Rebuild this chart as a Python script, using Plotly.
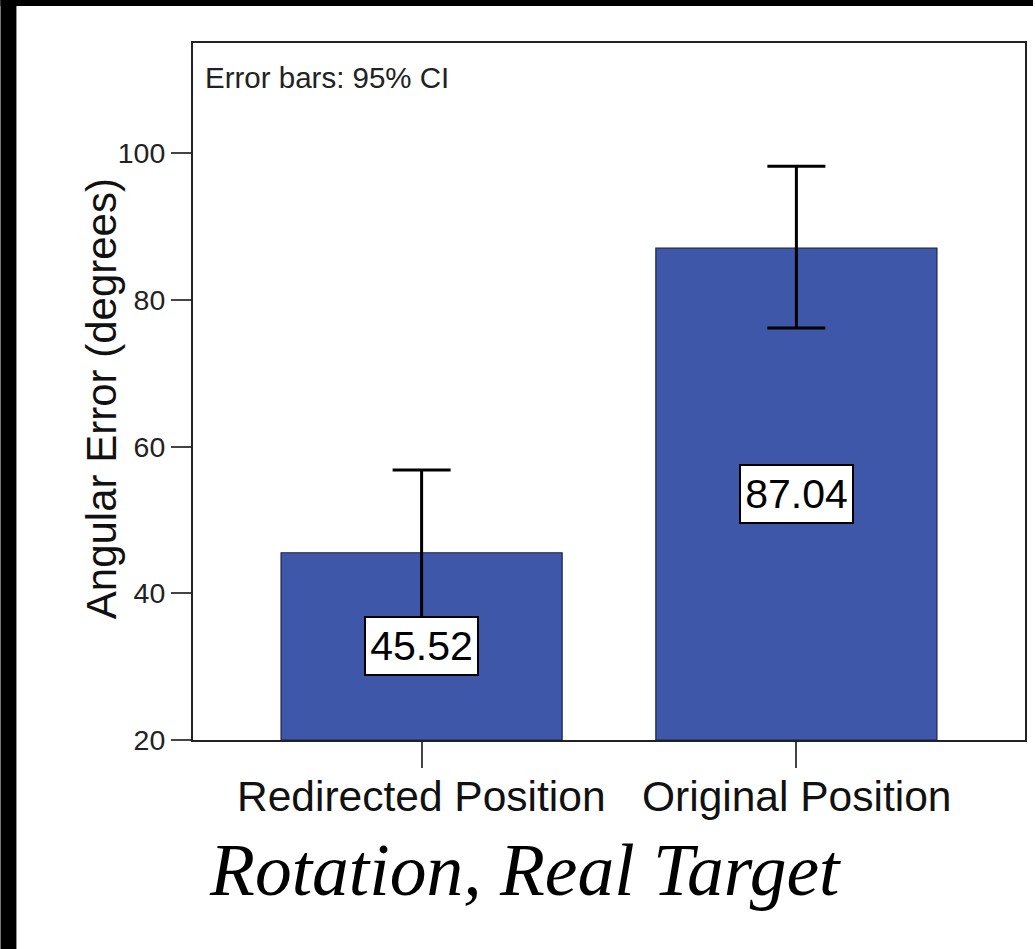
import plotly.graph_objects as go

# Data: mean angular error with 95% confidence interval bounds
categories = ["Redirected Position", "Original Position"]
means = [45.52, 87.04]
ci_upper = [56.8, 98.2]
ci_lower = [34.7, 76.15]
y_ticks = [20, 40, 60, 80, 100]
y_min, y_max = 20, 115

W, H = 1035, 949
L, R, T, B = 193, 8, 43, 209
plot_w = W - L - R
plot_h = H - T - B


def px_x(px):
    return (px - L) / plot_w


def px_y(py):
    return (T + plot_h - py) / plot_h


bar_color = "#3E57A9"
sans = "Liberation Sans, Arial, sans-serif"

fig = go.Figure()
fig.add_trace(go.Bar(
    x=categories,
    y=[m - y_min for m in means],
    base=y_min,
    width=0.75,
    marker=dict(color=bar_color, line=dict(color="#1a2250", width=1.2)),
    error_y=dict(
        type="data",
        symmetric=False,
        array=[u - m for u, m in zip(ci_upper, means)],
        arrayminus=[m - l for m, l in zip(means, ci_lower)],
        color="black",
        thickness=3,
        width=29,
    ),
    hoverinfo="skip",
    showlegend=False,
))

annotations = []
# value labels placed at the middle of each bar
for cat, m in zip(categories, means):
    annotations.append(dict(
        x=cat, y=(y_min + m) / 2, xref="x", yref="y",
        text=f"{m:.2f}", showarrow=False,
        font=dict(family=sans, size=41, color="black"),
        width=111, height=56, align="center", valign="middle",
        bgcolor="white", bordercolor="black", borderwidth=2, borderpad=0,
    ))

annotations.append(dict(
    x=px_x(203), y=px_y(77), xref="paper", yref="paper",
    xanchor="left", yanchor="middle",
    text="Error bars: 95% CI", showarrow=False,
    font=dict(family=sans, size=29.5, color="#222"),
))

annotations.append(dict(
    x=px_x(101), y=px_y(399), xref="paper", yref="paper",
    xanchor="center", yanchor="middle", textangle=-90,
    text="Angular Error (degrees)", showarrow=False,
    font=dict(family=sans, size=42, color="#111"),
))

# category labels beneath the tick marks
for cat in categories:
    annotations.append(dict(
        x=cat, y=px_y(796), xref="x", yref="paper",
        xanchor="center", yanchor="middle",
        text=cat, showarrow=False,
        font=dict(family=sans, size=42.5, color="#111"),
    ))

annotations.append(dict(
    x=px_x(526), y=px_y(870),
    xref="paper", yref="paper", xanchor="center", yanchor="middle",
    text="<i>Rotation, Real Target</i>", showarrow=False,
    font=dict(family="Liberation Serif, Times New Roman, serif", size=73.5, color="black"),
))

# dark frame strips along the top and left edges of the canvas
shapes = [
    dict(type="rect", xref="paper", yref="paper", layer="above",
         x0=px_x(0), x1=px_x(W), y0=px_y(6), y1=px_y(0),
         fillcolor="black", line=dict(width=0)),
    dict(type="rect", xref="paper", yref="paper", layer="above",
         x0=px_x(0), x1=px_x(16), y0=px_y(H), y1=px_y(0),
         fillcolor="black", line=dict(width=0)),
]

fig.update_layout(
    width=W, height=H,
    margin=dict(l=L, r=R, t=T, b=B, pad=0),
    paper_bgcolor="white", plot_bgcolor="white",
    annotations=annotations, shapes=shapes,
    xaxis=dict(
        range=[-0.61, 1.61], showline=True, linecolor="#222", linewidth=2,
        mirror=True, ticks="outside", ticklen=26, tickwidth=2, tickcolor="#444",
        showticklabels=False,
        showgrid=False, zeroline=False, fixedrange=True,
    ),
    yaxis=dict(
        range=[y_min, y_max], tickvals=y_ticks, showline=True, linecolor="#222",
        linewidth=2, mirror=True, ticks="outside", ticklen=20, tickwidth=2,
        tickcolor="#444", tickfont=dict(family=sans, size=28.5, color="#222"),
        showgrid=False, zeroline=False, fixedrange=True,
    ),
)

fig.write_html("out.html")
